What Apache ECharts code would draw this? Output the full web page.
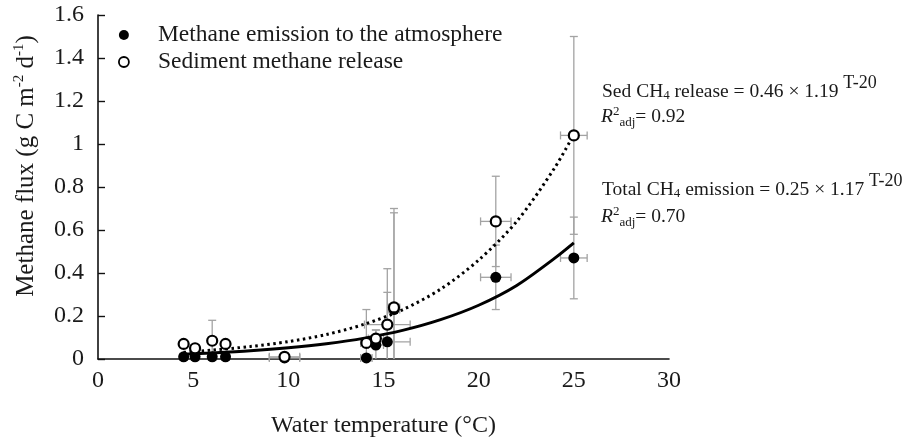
<!DOCTYPE html>
<html>
<head>
<meta charset="utf-8">
<script src="https://cdn.jsdelivr.net/npm/echarts@6/dist/echarts.min.js"></script>
<style>
html,body{margin:0;padding:0;background:#fff;}
#chart{width:905px;height:444px;}
</style>
</head>
<body>
<div id="chart"></div>
<script>
// ---- data ----
const xTicks = [0, 5, 10, 15, 20, 25, 30];
const yTicks = [0, 0.2, 0.4, 0.6, 0.8, 1, 1.2, 1.4, 1.6];

const emissionTemp    = [4.5, 5.1, 6.0, 6.7, 9.8, 14.1, 14.6, 15.2, 15.55, 20.9, 25.0];
const emissionFlux    = [0.01, 0.01, 0.01, 0.01, 0.005, 0.005, 0.065, 0.08, 0.23, 0.38, 0.47];
const emissionFluxErr = [0.005, 0.005, 0.005, 0.005, 0.005, 0.01, 0.07, 0.23, 0.45, 0.15, 0.19];
const emissionTempErr = [0.2, 0.2, 0.2, 0.2, 0.8, 0.3, 0.4, 1.2, 0.3, 0.8, 0.7];

const releaseTemp    = [4.5, 5.1, 6.0, 6.7, 9.8, 14.1, 14.6, 15.2, 15.55, 20.9, 25.0];
const releaseFlux    = [0.07, 0.05, 0.085, 0.07, 0.01, 0.075, 0.095, 0.16, 0.24, 0.64, 1.04];
const releaseFluxErr = [0.01, 0.01, 0.095, 0.01, 0.01, 0.155, 0.04, 0.26, 0.46, 0.21, 0.46];
const releaseTempErr = [0.2, 0.2, 0.2, 0.2, 0.8, 0.3, 0.4, 1.2, 0.3, 0.8, 0.7];

// fitted curves
const fitTemp  = [4.5, 6, 8, 10, 12, 14, 16, 18, 20, 22, 24, 25];
const totalFit = [0.022, 0.028, 0.038, 0.052, 0.071, 0.097, 0.133, 0.183, 0.25, 0.342, 0.469, 0.54];
const sedFit   = [0.031, 0.041, 0.058, 0.081, 0.114, 0.162, 0.229, 0.325, 0.46, 0.64, 0.89, 1.045];

const nameEmission = 'Methane emission to the atmosphere';
const nameRelease = 'Sediment methane release';

// ---- chart ----
const FONT = '"Liberation Serif", "DejaVu Serif", serif';
const TXT = '#1a1a1a';
const chart = echarts.init(document.getElementById('chart'));

function zip(a, b) { return a.map((v, i) => [v, b[i]]); }
function errData(t, v, ev, et) { return t.map((x, i) => [x, v[i], ev[i], et[i]]); }

function errorBars(params, api) {
  const t = api.value(0), v = api.value(1), ey = api.value(2), ex = api.value(3);
  const cap = 4;
  const st = () => ({ stroke: '#a3a3a3', lineWidth: 1.3 });
  const lowV = Math.max(0, v - ey);
  const top = api.coord([t, v + ey]);
  const bot = api.coord([t, lowV]);
  const left = api.coord([t - ex, v]);
  const right = api.coord([t + ex, v]);
  const ch = [
    { type: 'line', shape: { x1: top[0], y1: top[1], x2: bot[0], y2: bot[1] }, style: st() },
    { type: 'line', shape: { x1: top[0] - cap, y1: top[1], x2: top[0] + cap, y2: top[1] }, style: st() },
    { type: 'line', shape: { x1: left[0], y1: left[1], x2: right[0], y2: right[1] }, style: st() },
    { type: 'line', shape: { x1: left[0], y1: left[1] - cap, x2: left[0], y2: left[1] + cap }, style: st() },
    { type: 'line', shape: { x1: right[0], y1: right[1] - cap, x2: right[0], y2: right[1] + cap }, style: st() }
  ];
  if (v - ey > 0) {
    ch.push({ type: 'line', shape: { x1: bot[0] - cap, y1: bot[1], x2: bot[0] + cap, y2: bot[1] }, style: st() });
  }
  return { type: 'group', children: ch };
}

const mainTok = { fontSize: 19.5, fontFamily: FONT, fill: TXT };
const eqRich = {
  m: mainTok,
  sub: { fontSize: 13, fontFamily: FONT, fill: TXT, padding: [7, 0, 0, 0] },
  sup: { fontSize: 18, fontFamily: FONT, fill: TXT, padding: [0, 0, 17, 0] },
  it: { fontSize: 19.5, fontFamily: FONT, fontStyle: 'italic', fill: TXT },
  s2: { fontSize: 13, fontFamily: FONT, fill: TXT, padding: [0, 0, 11, 0] },
  adj: { fontSize: 13, fontFamily: FONT, fill: TXT, padding: [12, 0, 0, 0] }
};
function eqText(x, y, text) {
  return { type: 'text', x: x, y: y, z: 10,
    style: { text: text, rich: eqRich, align: 'left', verticalAlign: 'middle', fontFamily: FONT, fontSize: 19.5, fill: TXT } };
}

const option = {
  backgroundColor: '#fff',
  animation: false,
  grid: { left: 98, right: 236, top: 15, bottom: 85, containLabel: false },
  legend: {
    orient: 'vertical', left: 113, top: 18, itemWidth: 10, itemHeight: 10, itemGap: 3,
    selectedMode: false,
    textStyle: { fontFamily: FONT, fontSize: 23.5, color: TXT, lineHeight: 24, padding: [0, 0, 0, 24] },
    data: [
      { name: nameEmission, icon: 'circle', itemStyle: { color: '#000', borderWidth: 0, opacity: 1 } },
      { name: nameRelease, icon: 'circle', itemStyle: { color: '#fff', borderColor: '#000', borderWidth: 1.8, opacity: 1 } }
    ]
  },
  xAxis: {
    type: 'value', min: xTicks[0], max: xTicks[xTicks.length - 1], interval: 5,
    name: 'Water temperature (°C)', nameLocation: 'middle', nameGap: 55,
    nameTextStyle: { fontFamily: FONT, fontSize: 24, color: TXT },
    axisLine: { show: true, lineStyle: { color: '#111', width: 1.6 } },
    axisTick: { show: false },
    splitLine: { show: false },
    axisLabel: { fontFamily: FONT, fontSize: 24, color: TXT, margin: 10 }
  },
  yAxis: {
    type: 'value', min: yTicks[0], max: yTicks[yTicks.length - 1], interval: 0.2,
    axisLine: { show: true, lineStyle: { color: '#111', width: 1.6 } },
    axisTick: { show: true, inside: true, length: 7, lineStyle: { color: '#111', width: 1.4 } },
    splitLine: { show: false },
    axisLabel: { fontFamily: FONT, fontSize: 24, color: TXT, margin: 14 }
  },
  graphic: [
    { type: 'text', x: 26, y: 166, rotation: Math.PI / 2,
      style: {
        text: '{a|Methane flux (g C m}{s|-2}{a| d}{s|-1}{a|)}',
        rich: {
          a: { fontSize: 25, fontFamily: FONT, fill: TXT },
          s: { fontSize: 15, fontFamily: FONT, fill: TXT, padding: [0, 0, 13, 0] }
        },
        align: 'center', verticalAlign: 'middle', fontFamily: FONT, fontSize: 25, fill: TXT
      } },
    eqText(602, 92, '{m|Sed CH}{sub|4}{m| release = 0.46 × 1.19 }{sup|T-20}'),
    eqText(601, 117, '{it|R}{s2|2}{adj|adj}{m|= 0.92}'),
    eqText(602, 190, '{m|Total CH}{sub|4}{m| emission = 0.25 × 1.17 }{sup|T-20}'),
    eqText(601, 217, '{it|R}{s2|2}{adj|adj}{m|= 0.70}')
  ],
  series: [
    { name: 'Total fit', type: 'line', data: zip(fitTemp, totalFit), symbol: 'none', smooth: 0.3, z: 2,
      lineStyle: { color: '#000', width: 3 }, silent: true },
    { name: 'Sed fit', type: 'line', data: zip(fitTemp, sedFit), symbol: 'none', smooth: 0.3, z: 2,
      lineStyle: { color: '#000', width: 3, type: [2.5, 3.5] }, silent: true },
    { name: 'errE', type: 'custom', renderItem: errorBars, z: 1, silent: true,
      data: errData(emissionTemp, emissionFlux, emissionFluxErr, emissionTempErr), encode: { x: 0, y: 1 } },
    { name: 'errR', type: 'custom', renderItem: errorBars, z: 1, silent: true,
      data: errData(releaseTemp, releaseFlux, releaseFluxErr, releaseTempErr), encode: { x: 0, y: 1 } },
    { name: nameEmission, type: 'scatter', data: zip(emissionTemp, emissionFlux), symbol: 'circle', symbolSize: 11, z: 3,
      itemStyle: { color: '#000', opacity: 1 } },
    { name: nameRelease, type: 'scatter', data: zip(releaseTemp, releaseFlux), symbol: 'circle', symbolSize: 10, z: 4,
      itemStyle: { color: '#fff', borderColor: '#000', borderWidth: 2.2, opacity: 1 } }
  ]
};
chart.setOption(option);
</script>
</body>
</html>
